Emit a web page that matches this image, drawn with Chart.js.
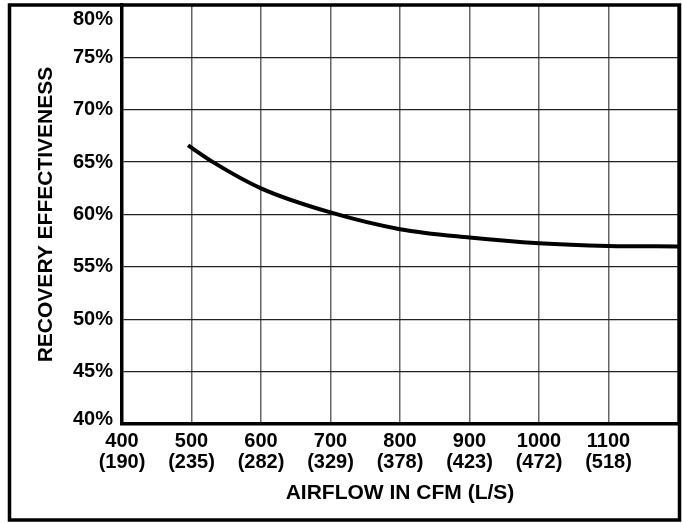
<!DOCTYPE html>
<html>
<head>
<meta charset="utf-8">
<script src="https://cdn.jsdelivr.net/npm/chart.js@4/dist/chart.umd.min.js"></script>
<style>
  html, body { margin: 0; padding: 0; background: #fff; }
  canvas { display: block; }
</style>
</head>
<body>
<canvas id="effChart" width="682" height="523"></canvas>
<script>
// airflow (CFM) vs recovery effectiveness (%)
const airflowCfm = [495, 531, 600, 700, 800, 900, 1000, 1100, 1200];
const effectiveness = [66.6, 65.0, 62.5, 60.2, 58.6, 57.8, 57.25, 57.0, 56.95];

// labelled x ticks and their L/S equivalents
const cfmTicks = [400, 500, 600, 700, 800, 900, 1000, 1100];
const lpsLabels = ['(190)', '(235)', '(282)', '(329)', '(378)', '(423)', '(472)', '(518)'];

const fontFamily = '"Liberation Sans", Arial, Helvetica, sans-serif';

const values = airflowCfm.map((x, i) => ({x: x, y: effectiveness[i]}));

// outer frame round the whole figure
const framePlugin = {
  id: 'frame',
  afterDraw(chart) {
    const c = chart.ctx;
    c.save();
    c.strokeStyle = '#000';
    c.lineWidth = 3.5;
    c.strokeRect(9.5, 5, 670, 515);
    c.restore();
  }
};

const ctx = document.getElementById('effChart');
const config = {
  type: 'line',
  data: {
    datasets: [
      {
        label: 'Recovery effectiveness',
        data: values,
        borderColor: '#000',
        borderWidth: 4,
        pointRadius: 0,
        cubicInterpolationMode: 'monotone',
        fill: false
      }
    ]
  },
  options: {
    responsive: false,
    animation: false,
    layout: {
      padding: {left: 0, top: 5, right: 4, bottom: 0}
    },
    plugins: {
      legend: {display: false},
      tooltip: {enabled: false}
    },
    scales: {
      x: {
        type: 'linear',
        min: 400,
        max: 1200,
        afterFit: (scale) => {
          scale.height = 99;
          scale.paddingLeft = 0;
          scale.paddingRight = 0;
        },
        grid: {color: '#666', lineWidth: 1.5, drawTicks: false},
        border: {color: '#000', width: 3.5},
        ticks: {
          stepSize: 100,
          maxRotation: 0,
          autoSkip: false,
          padding: 7,
          color: '#000',
          font: {family: fontFamily, size: 20, weight: 'bold', lineHeight: 1.05},
          callback: (value) => {
            const i = cfmTicks.indexOf(value);
            return i < 0 ? '' : [String(value), lpsLabels[i]];
          }
        },
        title: {
          display: true,
          text: 'AIRFLOW IN CFM (L/S)',
          color: '#000',
          font: {family: fontFamily, size: 21, weight: 'bold', lineHeight: 1.2},
          padding: {top: 0, bottom: 17}
        }
      },
      y: {
        min: 40,
        max: 80,
        afterFit: (scale) => {
          scale.width = 122;
          scale.paddingTop = 0;
          scale.paddingBottom = 0;
        },
        grid: {color: '#222', lineWidth: 1.3, drawTicks: false},
        border: {color: '#000', width: 3.5},
        ticks: {
          stepSize: 5,
          autoSkip: false,
          padding: 9,
          color: '#000',
          font: (c) => {
            const v = c.tick ? c.tick.value : null;
            let lh = 1.2;
            if (v === 80) lh = '28px';
            if (v === 40) lh = '9px';
            return {family: fontFamily, size: 20, weight: 'bold', lineHeight: lh};
          },
          callback: (value) => {
            if (value === 80) return ['', '80%'];
            if (value === 40) return ['40%', ''];
            return value + '%';
          }
        },
        title: {
          display: true,
          text: 'RECOVERY EFFECTIVENESS',
          color: '#000',
          font: {family: fontFamily, size: 21, weight: 'bold', lineHeight: 1.2},
          padding: {top: 34, bottom: 0}
        }
      }
    }
  },
  plugins: [framePlugin]
};

const effChart = new Chart(ctx, config);
</script>
</body>
</html>
